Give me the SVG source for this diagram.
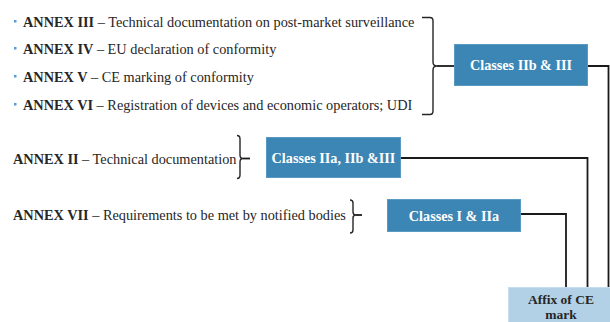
<svg xmlns="http://www.w3.org/2000/svg" width="610" height="322" viewBox="0 0 610 322">
<style>
.t{font-family:"Liberation Serif","Times New Roman","DejaVu Serif",serif;font-size:14.3px;fill:#262626}
.b{font-weight:bold}
.box{fill:#3b86b4;stroke:#5a9ac2;stroke-width:1}
.bt{font-family:"Liberation Serif","Times New Roman","DejaVu Serif",serif;font-size:14.2px;font-weight:bold;fill:#ffffff;text-anchor:middle}
.at{font-family:"Liberation Serif","Times New Roman","DejaVu Serif",serif;font-size:13.5px;font-weight:bold;fill:#262626;text-anchor:middle}
.br{fill:none;stroke:#262626;stroke-width:1.4}
.cn{fill:none;stroke:#1a1a1a;stroke-width:1.8}
.bul{fill:#5b9bd5}
</style>
<rect width="610" height="322" fill="#ffffff"/>
<g id="annex-list">
<rect class="bul" x="14" y="20" width="2.5" height="2.5"/>
<text class="t" x="23" y="26.5"><tspan class="b">ANNEX III</tspan> – Technical documentation on post-market surveillance</text>
<rect class="bul" x="14" y="47" width="2.5" height="2.5"/>
<text class="t" x="23" y="53.5"><tspan class="b">ANNEX IV</tspan> – EU declaration of conformity</text>
<rect class="bul" x="14" y="75" width="2.5" height="2.5"/>
<text class="t" x="23" y="81.5"><tspan class="b">ANNEX V</tspan> – CE marking of conformity</text>
<rect class="bul" x="14" y="103" width="2.5" height="2.5"/>
<text class="t" x="23" y="109.5"><tspan class="b">ANNEX VI</tspan> – Registration of devices and economic operators; UDI</text>
<path class="br" d="M422,17.5 H430 Q433,17.5 433,21 V62 Q433,66 437,66 Q433,66 433,70 V111 Q433,114.5 430,114.5 H422"/>
</g>
<g id="annex-ii">
<text class="t" x="13" y="164"><tspan class="b">ANNEX II</tspan> – Technical documentation</text>
<path class="br" d="M237,135.5 Q240,135.5 240,139 V155 Q240,158.5 243,158.5 Q240,158.5 240,162 V175 Q240,178.5 237,178.5"/>
</g>
<g id="annex-vii">
<text class="t" x="13" y="220"><tspan class="b">ANNEX VII</tspan> – Requirements to be met by notified bodies</text>
<path class="br" d="M350,200 Q353,200 353,203 V212 Q353,215 356,215 Q353,215 353,218 V230 Q353,233 350,233"/>
</g>
<g id="classes-iib-iii">
<rect class="box" x="454.5" y="44.5" width="133" height="41"/>
<text class="bt" x="521" y="70">Classes IIb &amp; III</text>
</g>
<g id="classes-iia-iib-iii">
<rect class="box" x="266.5" y="137.5" width="134" height="40"/>
<text class="bt" x="333.5" y="162.5">Classes IIa, IIb &amp;III</text>
</g>
<g id="classes-i-iia">
<rect class="box" x="387.5" y="199.5" width="133" height="32"/>
<text class="bt" x="454" y="220.5">Classes I &amp; IIa</text>
</g>
<g id="affix">
<rect x="508.5" y="287.5" width="104" height="40" fill="#b3d1e6" stroke="#c7dcec" stroke-width="1"/>
<text class="at" x="561" y="304">Affix of CE</text>
<text class="at" x="561" y="319">mark</text>
</g>
<g id="connectors">
<path class="cn" d="M437,66 H454"/>
<path class="cn" d="M243,158.5 H250"/>
<path class="cn" d="M356,215 H362"/>
<path class="cn" d="M588,66 H608.5 V287"/>
<path class="cn" d="M401,158 H587.5 V287"/>
<path class="cn" d="M521,214 H566 V287"/>
</g>
</svg>
